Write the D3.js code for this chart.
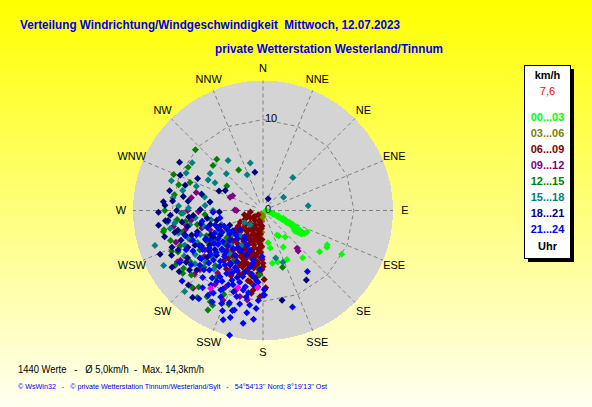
<!DOCTYPE html>
<html>
<head>
<meta charset="utf-8">
<style>
  body { margin: 0; background: #ffffff; }
  svg { display: block; font-family: 'Liberation Sans', Arial, sans-serif; }
</style>
</head>
<body>
<svg id="chart"></svg>
<script src="https://cdn.jsdelivr.net/npm/d3@7/dist/d3.min.js"></script>
<script>

var width = 592, height = 407;
var cx = 263, cy = 210.5, outerR = 130;

// compass directions, clockwise from north
var directions = ["N","NNE","NE","ENE","E","ESE","SE","SSE","S","SSW","SW","WSW","W","WNW","NW","NNW"];
var ringValues = [0, 10];
var maxSpeed = 14.3;

var bandLabels = ["00...03","03...06","06...09","09...12","12...15","15...18","18...21","21...24"];
var bandColors = ["#00ff00","#808000","#800000","#800080","#008000","#008080","#000080","#0000ff"];

// [direction deg, speed km/h]
var s0003 = [[95,0.3],[102,0.5],[104,0.7],[108,1.0],[109,1.15],[110,1.3],[111,1.6],[112,1.75],[113,1.9],[114,2.2],[115,2.35],[115,2.5],[116,2.8],[117,3.0],[116,3.1],[117,3.3],[118,3.6],[119,3.8],[121,4.0],[123,4.2],[120,4.4],[122,4.5],[118,4.6],[122,4.8],[119,5.2],[116,5.4],
  [106,1.2],[109,1.8],[111,2.4],[113,2.7],[114,3.2],[115,3.6],[116,4.0],[118,4.2],[119,4.9],[121,5.0],
  [120,8.1],[118,8.0],[126,7.7],[119,9.9],[140,6.8],[154,6.0],[151,4.6],[150,3.1],[148,3.3],[140,3.8],[169,4.2],[170,5.9],[164,5.9],[193,1.4],[192,2.2],[189,2.9],[171,3.6]];
var s0306 = [[210,0.4],[208,0.9],[185,1.2],[200,1.6],[186,1.9],[196,2.4],[183,2.4],[232,1.0],[180,0.7],[194,1.9],[190,1.0],[198,2.1],[185,0.5]];
var s0609 = [[228,0.7],[220,1.4],[195,1.3],[240,1.6],[231,2.5],[209,2.5],[192,2.7],[182,3.2],[209,3.4],[227,3.5],[222,4.4],[208,4.4],[193,4.2],[183,4.6],[196,5.2],[209,5.2],[220,5.3],[186,5.7],[198,6.2],[208,6.4],[181,6.5],[190,7.3],[178,8.5],[184,8.4],[179,8.7],[189,6.4],[197,7.1],[216,6.5],[202,2.1],[184,1.7],[217,2.9],[198,3.6],[185,3.7],[217,4.6],[200,4.9],[189,5.1],[181,5.4],[204,5.7],[192,6.2],[179,7.6],[263,1.4],[257,2.1],[243,2.8],[235,3.7],[230,4.7],[197,2.9],[201,6.1],[187,8.8],[186,7.4],[190,8.0],[200,6.6],[183,5.2],
  [185,2.0],[190,2.3],[200,2.8],[205,3.0],[212,3.2],[188,3.5],[195,3.9],[203,4.1],[212,4.0],[188,4.8],[205,4.6],[214,5.0],[192,5.5],[200,5.7],[210,5.8],[186,6.0],[195,6.8],[205,7.0],[183,7.0],[218,3.8],[224,4.0],[215,2.3],[225,2.0],[235,1.2],[200,1.2],[190,1.6],[210,1.8],[220,2.8],[228,3.0],[182,4.0],[186,2.6],[196,4.6],[203,5.3],[214,6.0],[180,5.8],[192,7.9],[188,9.2],[182,9.5],
  [183,3.9],[187,4.3],[192,4.9],[198,5.2],[205,5.5],[211,5.0],[217,5.5],[222,5.9],[189,5.8],[196,6.1],[203,6.5],[211,6.8],[218,7.0],[185,7.8],[193,7.0],[200,7.5],[206,8.0],[212,7.6],[180,6.2],[184,6.9],[226,6.2],[230,5.5],[224,4.7],[231,3.9],[238,3.2],[244,2.2],[250,1.8],[190,3.0],[196,3.3],[202,3.6]];
var s0912 = [[285,7.6],[292,3.9],[296,3.7],[261,8.8],[271,3.1],[269,7.1],[256,8.8],[270,2.9],[138,5.6],[139,5.9],[239,11.0],[227,10.3],[195,9.8],[206,9.4],[239,10.6],[238,6.2],[221,6.4],[236,7.7],[209,7.5],[213,9.7],[227,9.5],[190,10.0],[199,9.3],[248,8.6],[250,6.2],
  [244,9.3],[232,8.2],[216,8.5],[254,7.0],[262,8.0],[246,5.2],[226,5.0],[222,11.5],[212,10.6],[204,10.8],[250,10.2],[260,10.0],[270,8.3],[280,8.0]];
var s1215 = [[312,10.0],[318,7.6],[300,9.5],[312,7.4],[329,5.2],[291,8.6],[287,9.7],[304,4.8],[259,11.1],[264,9.5],[250,5.3],[242,4.5],[266,6.4],[209,12.5],[208,11.8],[217,12.0],[234,10.8],[223,11.5],[213,11.3],[246,11.0],[220,11.0],[232,11.2],[161,6.6],[210,11.6],[238,8.2],[221,8.0],[235,9.8],[228,5.6],[210,6.3],[247,9.9],[252,10.7],[258,11.2],[184,6.5],[183,7.1],
  [250,8.5],[255,9.2],[262,8.6],[244,10.4],[238,11.4],[228,10.6],[226,9.0],[240,7.0],[233,5.0],[246,6.8],[258,7.4],[270,10.8],[268,9.0],[280,9.9],[292,10.6],[200,11.0],[205,10.2],[215,9.0]];
var s1518 = [[304,9.4],[325,6.7],[345,5.4],[305,7.1],[315,5.7],[336,4.3],[300,6.1],[299,6.9],[278,10.0],[284,9.1],[273,9.3],[275,6.4],[42,4.9],[57,2.7],[84,5.0],[165,5.4],[159,6.1],[252,12.5],[241,12.5],[224,12.4],[259,10.4],[263,10.6],[259,8.2],[249,7.4],[240,6.5],[251,4.8],[232,4.3],[237,8.9],[246,9.4],[228,8.5],[237,2.4],[226,6.3],[223,3.7],[224,5.2],[222,2.1],
  [255,9.6],[262,9.8],[268,8.8],[244,8.0],[250,8.8],[256,6.8],[264,7.5],[272,8.2],[240,10.0],[232,9.5],[283,6.6],[290,7.8],[296,9.4],[288,10.6],[270,5.5],[260,5.8],[234,6.0],[245,5.6],[228,7.6],[218,6.0],[212,4.5],[220,8.4]];
var s1821 = [[293,9.9],[348,4.3],[294,5.3],[279,5.9],[275,11.0],[273,10.8],[267,10.2],[264,10.5],[280,8.9],[277,8.3],[266,7.7],[298,4.7],[24,1.4],[238,11.8],[219,12.3],[225,11.6],[234,11.4],[148,9.0],[168,10.1],[271,6.9],[253,9.0],[243,8.4],[243,7.1],[231,6.8],[233,8.7],[231,10.4],[240,5.4],[246,4.0],[245,10.3],[255,6.0],[256,10.0],[247,12.3],[211,7.0],
  [258,8.5],[262,9.0],[250,9.6],[244,9.2],[238,9.8],[252,7.6],[258,7.0],[265,8.2],[270,9.5],[276,10.0],[282,10.5],[288,9.0],[262,11.6],[255,11.2],[248,10.8],[236,10.2],[228,9.8],[245,6.3],[250,5.0],[262,6.2],[268,4.8],[258,5.2],[240,7.8],[233,7.4],[226,7.1],[285,7.0],[296,8.0],[300,10.6],
  [230,8.0],[237,7.0],[242,6.2],[251,8.3],[257,9.6],[264,10.8],[269,11.5],[244,11.2]];
var s2124 = [[207,6.3],[202,8.8],[204,11.2],[200,10.8],[197,11.5],[196,11.4],[197,12.3],[185,12.0],[195,14.2],[191,9.7],[179,9.3],[179,8.7],[211,10.6],[213,11.1],[213,9.3],[144,8.3],[163,11.1],[183,6.5],[268,5.5],[206,10.6],[207,9.7],[201,7.9],[206,7.0],[187,7.5],[253,5.5],[242,5.1],[228,4.9],[214,4.9],[222,6.1],[233,6.2],[225,7.7],[215,7.3],[206,7.6],[197,7.6],[193,6.4],[184,7.9],[213,8.7],[222,8.8],[237,7.9],[253,6.4],[218,10.8],[197,9.9],[190,9.2],[212,5.8],[211,3.8],[241,4.4],[230,3.3],[260,4.8],[241,6.7],[229,9.2],[198,4.6],[191,5.5],[205,9.0],[180,9.3],[191,5.9],[181,5.1],
  [218,5.3],[225,5.5],[232,5.6],[238,5.8],[245,5.9],[220,6.6],[228,6.9],[235,7.2],[244,7.0],[212,6.8],[218,7.8],[226,8.3],[232,8.6],[240,8.9],[210,8.0],[204,8.4],[198,8.3],[193,8.6],[200,9.5],[208,9.9],[215,10.0],[222,9.9],[188,10.5],[194,10.6],[202,11.9],[190,12.6],[184,10.8],[230,7.5],[236,6.5],[248,4.6],[235,4.5],[222,4.2],[215,3.5],[205,4.2],[200,5.2],[208,5.0],[250,7.8],[243,9.5],[260,6.8],
  [210,9.0],[217,9.3],[225,9.2],[233,9.9],[220,7.3],[227,6.2],[241,8.0],[247,8.4],[252,9.0],[203,7.2],[196,7.0],[190,7.1],[187,8.3],[194,9.0],[183,9.9],[209,11.5],[216,12.0],[200,12.8],[189,11.4],[238,10.8],[229,11.8],[236,4.0],[228,4.0],[248,5.3]];
// a few pink marks in the reference
var extraPts = [[214,10.3],[198,8.9],[184,8.5]];

var series = [s0003, s0306, s0609, s0912, s1215, s1518, s1821, s2124];

var svg = d3.select("#chart").attr("width", width).attr("height", height);

var defs = svg.append("defs");
var grad = defs.append("linearGradient").attr("id", "bg").attr("x1", 0).attr("y1", 0).attr("x2", 0).attr("y2", 1);
grad.append("stop").attr("offset", "0%").attr("stop-color", "#ffff00");
grad.append("stop").attr("offset", "100%").attr("stop-color", "#fffff2");

svg.append("rect").attr("width", width).attr("height", height).attr("fill", "url(#bg)");

var rScale = d3.scaleLinear().domain([0, maxSpeed]).range([0, outerR]);
var aScale = d3.scaleLinear().domain([0, 360]).range([0, 2 * Math.PI]);

function px(d) { return cx + rScale(d[1]) * Math.sin(aScale(d[0])); }
function py(d) { return cy - rScale(d[1]) * Math.cos(aScale(d[0])); }

var g = svg.append("g");

// disc
g.append("circle").attr("cx", cx).attr("cy", cy).attr("r", outerR)
  .attr("fill", "#d4d4d4").attr("shape-rendering", "crispEdges");

// spokes
g.selectAll(".spoke").data(directions).enter().append("line")
  .attr("x1", function(d, i) { return cx + 8 * Math.sin(aScale(i * 22.5)); })
  .attr("y1", function(d, i) { return cy - 8 * Math.cos(aScale(i * 22.5)); })
  .attr("x2", function(d, i) { return cx + outerR * Math.sin(aScale(i * 22.5)); })
  .attr("y2", function(d, i) { return cy - outerR * Math.cos(aScale(i * 22.5)); })
  .attr("stroke", "#808080").attr("stroke-dasharray", "4,3");

// ring at 10 as polygon
var ringLine = d3.lineRadial()
  .angle(function(d) { return aScale(d); })
  .radius(rScale(10))
  .curve(d3.curveLinearClosed);
g.append("path")
  .attr("transform", "translate(" + cx + "," + cy + ")")
  .attr("d", ringLine(d3.range(0, 360, 22.5)))
  .attr("fill", "none").attr("stroke", "#808080").attr("stroke-dasharray", "4,3");

// points
var diamond = "M0,-3.5L3.5,0L0,3.5L-3.5,0Z";
series.forEach(function(s, i) {
  g.append("g").selectAll("path").data(s).enter().append("path")
    .attr("d", diamond)
    .attr("transform", function(d) { return "translate(" + px(d) + "," + py(d) + ")"; })
    .attr("fill", bandColors[i]);
});
g.append("g").selectAll("path").data(extraPts).enter().append("path")
  .attr("d", diamond)
  .attr("transform", function(d) { return "translate(" + px(d) + "," + py(d) + ")"; })
  .attr("fill", "#ff00ff");

// ring labels
g.selectAll(".rlab").data(ringValues).enter().append("text")
  .attr("x", cx + 2)
  .attr("y", function(d) { return cy - rScale(d) + 2.5; })
  .attr("font-size", "11px").attr("fill", "#000")
  .text(function(d) { return d; });

// compass labels
g.selectAll(".clab").data(directions).enter().append("text")
  .attr("x", function(d, i) { return cx + 142 * Math.sin(aScale(i * 22.5)); })
  .attr("y", function(d, i) { return cy - 142 * Math.cos(aScale(i * 22.5)); })
  .attr("dy", "0.36em")
  .attr("text-anchor", "middle")
  .attr("font-size", "11px").attr("fill", "#000")
  .text(function(d) { return d; });

// titles
svg.append("text").attr("x", 20).attr("y", 29)
  .attr("font-size", "12.5px").attr("font-weight", "bold").attr("fill", "#0000ee")
  .attr("textLength", 380).attr("lengthAdjust", "spacingAndGlyphs")
  .style("white-space", "pre")
  .text("Verteilung Windrichtung/Windgeschwindigkeit  Mittwoch, 12.07.2023");
svg.append("text").attr("x", 215).attr("y", 53)
  .attr("font-size", "12.5px").attr("font-weight", "bold").attr("fill", "#0000ee")
  .attr("textLength", 228).attr("lengthAdjust", "spacingAndGlyphs")
  .text("private Wetterstation Westerland/Tinnum");

// legend
svg.append("rect").attr("x", 528).attr("y", 69).attr("width", 46).attr("height", 193).attr("fill", "#000");
svg.append("rect").attr("x", 524.5).attr("y", 65.5).attr("width", 46).attr("height", 193)
  .attr("fill", "#fff").attr("stroke", "#000");
svg.append("text").attr("x", 547.5).attr("y", 79).attr("text-anchor", "middle")
  .attr("font-size", "11px").attr("font-weight", "bold").text("km/h");
svg.append("text").attr("x", 547.5).attr("y", 95).attr("text-anchor", "middle")
  .attr("font-size", "11px").attr("fill", "#ff0000").text("7,6");
svg.selectAll(".leg").data(bandLabels).enter().append("text")
  .attr("x", 547.5).attr("y", function(d, i) { return 121 + i * 16; })
  .attr("text-anchor", "middle")
  .attr("font-size", "11px").attr("font-weight", "bold")
  .attr("fill", function(d, i) { return bandColors[i]; })
  .text(function(d) { return d; });
svg.append("text").attr("x", 547.5).attr("y", 250).attr("text-anchor", "middle")
  .attr("font-size", "11px").attr("font-weight", "bold").text("Uhr");

// footer
svg.append("text").attr("x", 18).attr("y", 373)
  .attr("font-size", "10.5px").attr("fill", "#000").style("white-space", "pre")
  .attr("textLength", 186).attr("lengthAdjust", "spacingAndGlyphs")
  .text("1440 Werte   -   Ø 5,0km/h  -  Max. 14,3km/h");
svg.append("text").attr("x", 18).attr("y", 389)
  .attr("font-size", "7px").attr("fill", "#0000ee").style("white-space", "pre")
  .attr("textLength", 309).attr("lengthAdjust", "spacingAndGlyphs")
  .text("© WsWin32   -   © private Wetterstation Tinnum/Westerland/Sylt   -   54°54'13'' Nord; 8°19'13'' Ost");

</script>
</body>
</html>
